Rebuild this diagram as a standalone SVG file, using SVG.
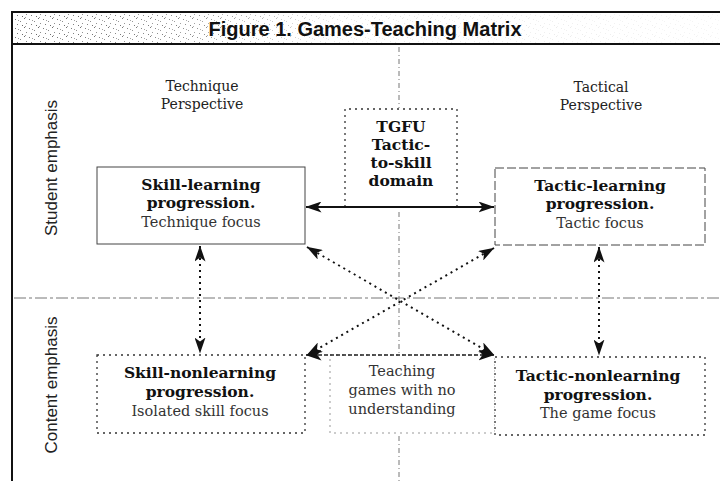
<svg xmlns="http://www.w3.org/2000/svg" width="720" height="481" viewBox="0 0 720 481">
  <style>
    .title { font-family: "Liberation Sans", Arial, sans-serif; font-weight: bold; font-size: 20px; fill: #111; }
    .axis { font-family: "Liberation Sans", Arial, sans-serif; font-size: 17px; fill: #222; }
    .persp { font-family: "DejaVu Serif", "Liberation Serif", serif; font-size: 14px; fill: #222; }
    .bold { font-family: "DejaVu Serif", "Liberation Serif", serif; font-weight: bold; font-size: 15.5px; fill: #111; }
    .reg { font-family: "DejaVu Serif", "Liberation Serif", serif; font-size: 14.5px; fill: #333; }
    .frame { stroke: #111; stroke-width: 2; fill: none; }
    .guide { stroke: #777; stroke-width: 1; fill: none; }
    .box-solid { fill: #fff; stroke: #444; stroke-width: 1; }
    .box-dash { fill: #fff; stroke: #444; stroke-width: 1; stroke-dasharray: 9 3; }
    .box-dot { fill: #fff; stroke: #333; stroke-width: 1.3; stroke-dasharray: 2 4; }
    .box-faint { fill: #fff; stroke: #999; stroke-width: 1; stroke-dasharray: 2 4; }
    .link-solid { stroke: #111; stroke-width: 2; fill: none; }
    .link-dot { stroke: #111; stroke-width: 2; fill: none; stroke-dasharray: 2 4; }
    .link-dash { stroke: #222; stroke-width: 1.4; fill: none; stroke-dasharray: 4 2; }
  </style>
  <defs>
    <marker id="head" viewBox="0 0 16 11" refX="15.5" refY="5.5" markerWidth="16" markerHeight="11" markerUnits="userSpaceOnUse" orient="auto-start-reverse">
      <path d="M0,0 L16,5.5 L0,11 L4,5.5 Z" fill="#111"/>
    </marker>
    <pattern id="stipple" width="14" height="9" patternUnits="userSpaceOnUse">
      <rect x="1" y="1" width="1" height="1" fill="#777"/>
      <rect x="6" y="3" width="1" height="1" fill="#888"/>
      <rect x="10" y="0" width="1" height="1" fill="#666"/>
      <rect x="3" y="6" width="1" height="1" fill="#777"/>
      <rect x="12" y="5" width="1" height="1" fill="#888"/>
      <rect x="8" y="7" width="1" height="1" fill="#666"/>
      <rect x="4" y="2" width="1" height="1" fill="#999"/>
      <rect x="11" y="8" width="1" height="1" fill="#999"/>
    </pattern>
    <linearGradient id="fade" x1="0" y1="0" x2="1" y2="0">
      <stop offset="0" stop-color="#fff" stop-opacity="1"/>
      <stop offset="0.25" stop-color="#fff" stop-opacity="0.8"/>
      <stop offset="0.45" stop-color="#fff" stop-opacity="0.2"/>
      <stop offset="1" stop-color="#fff" stop-opacity="0.08"/>
    </linearGradient>
    <mask id="fadeMask">
      <rect x="12" y="13" width="708" height="31" fill="url(#fade)"/>
    </mask>
  </defs>

  <rect width="720" height="481" fill="#fff"/>

  <!-- header band -->
  <g id="header">
    <rect x="12" y="13" width="708" height="31" fill="url(#stipple)" mask="url(#fadeMask)"/>
    <line class="frame" x1="11" y1="12" x2="720" y2="12"/>
    <line class="frame" x1="11" y1="44" x2="720" y2="44"/>
    <line class="frame" x1="12" y1="11" x2="12" y2="481"/>
    <text class="title" x="365" y="36" text-anchor="middle">Figure 1. Games-Teaching Matrix</text>
  </g>

  <!-- quadrant guides -->
  <g id="guides">
    <line class="guide" x1="14" y1="298" x2="720" y2="298" stroke-dasharray="12 3 3 3"/>
    <line class="guide" x1="399" y1="47" x2="399" y2="108" stroke-dasharray="5 3 1 3"/>
    <line class="guide" x1="399" y1="212" x2="399" y2="355" stroke-dasharray="5 3 1 3"/>
    <line class="guide" x1="399" y1="436" x2="399" y2="481" stroke-dasharray="5 3 1 3"/>
  </g>

  <!-- axis labels -->
  <g id="axis-labels">
    <text class="axis" transform="translate(57,168) rotate(-90)" text-anchor="middle">Student emphasis</text>
    <text class="axis" transform="translate(57,385) rotate(-90)" text-anchor="middle">Content emphasis</text>
    <text class="persp" x="202" y="91" text-anchor="middle">Technique</text>
    <text class="persp" x="202" y="109" text-anchor="middle">Perspective</text>
    <text class="persp" x="601" y="92" text-anchor="middle">Tactical</text>
    <text class="persp" x="601" y="110" text-anchor="middle">Perspective</text>
  </g>

  <!-- TGFU domain (open at the bottom, closed by the arrow) -->
  <g id="tgfu">
    <path class="box-dot" d="M345,207 V109 H457 V207" style="fill:none"/>
    <text class="bold" x="401" y="132" text-anchor="middle">TGFU</text>
    <text class="bold" x="401" y="150" text-anchor="middle">Tactic-</text>
    <text class="bold" x="401" y="168" text-anchor="middle">to-skill</text>
    <text class="bold" x="401" y="186" text-anchor="middle">domain</text>
  </g>

  <g id="skill-learning">
    <rect class="box-solid" x="97" y="167" width="208" height="77"/>
    <text class="bold" x="201" y="190" text-anchor="middle">Skill-learning</text>
    <text class="bold" x="201" y="208" text-anchor="middle">progression.</text>
    <text class="reg" x="201" y="227" text-anchor="middle">Technique focus</text>
  </g>

  <g id="tactic-learning">
    <rect class="box-dash" x="495" y="168" width="210" height="77"/>
    <text class="bold" x="600" y="191" text-anchor="middle">Tactic-learning</text>
    <text class="bold" x="600" y="209" text-anchor="middle">progression.</text>
    <text class="reg" x="600" y="228" text-anchor="middle">Tactic focus</text>
  </g>

  <g id="skill-nonlearning">
    <rect class="box-dot" x="97" y="355" width="208" height="78"/>
    <text class="bold" x="200" y="378" text-anchor="middle">Skill-nonlearning</text>
    <text class="bold" x="200" y="397" text-anchor="middle">progression.</text>
    <text class="reg" x="200" y="416" text-anchor="middle">Isolated skill focus</text>
  </g>

  <g id="no-understanding">
    <rect class="box-faint" x="330" y="355" width="165" height="78"/>
    <text class="reg" x="402" y="376" text-anchor="middle">Teaching</text>
    <text class="reg" x="402" y="395" text-anchor="middle">games with no</text>
    <text class="reg" x="402" y="414" text-anchor="middle">understanding</text>
  </g>

  <g id="tactic-nonlearning">
    <rect class="box-dot" x="495" y="357" width="210" height="78"/>
    <text class="bold" x="598" y="381" text-anchor="middle">Tactic-nonlearning</text>
    <text class="bold" x="598" y="400" text-anchor="middle">progression.</text>
    <text class="reg" x="598" y="418" text-anchor="middle">The game focus</text>
  </g>

  <!-- connectors -->
  <g id="connectors">
    <line class="link-solid" x1="306" y1="207" x2="494" y2="207" marker-start="url(#head)" marker-end="url(#head)"/>
    <line class="link-dot" x1="200" y1="246" x2="200" y2="353" marker-start="url(#head)" marker-end="url(#head)"/>
    <line class="link-dot" x1="599" y1="247" x2="599" y2="355" marker-start="url(#head)" marker-end="url(#head)"/>
    <line class="link-dot" x1="307" y1="247" x2="494" y2="355" marker-start="url(#head)" marker-end="url(#head)"/>
    <line class="link-dot" x1="494" y1="248" x2="307" y2="355" marker-start="url(#head)" marker-end="url(#head)"/>
    <line class="link-dash" x1="306" y1="355" x2="494" y2="355" marker-start="url(#head)" marker-end="url(#head)"/>
  </g>
</svg>
